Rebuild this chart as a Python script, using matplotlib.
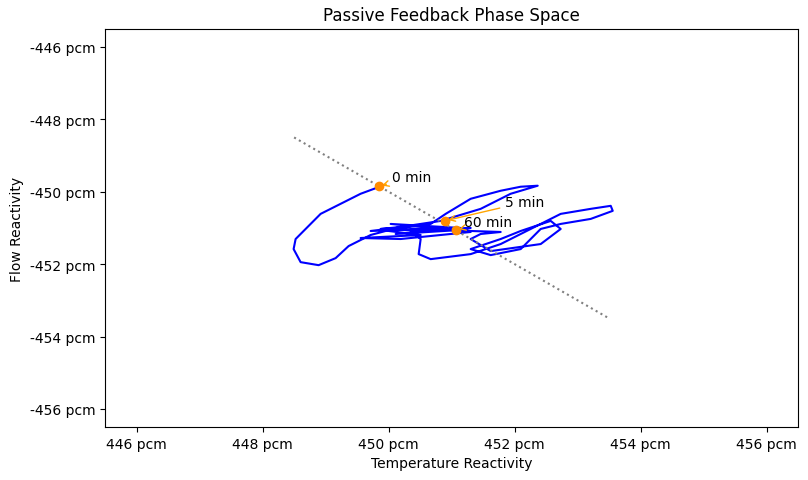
import matplotlib
matplotlib.use("Agg")
import matplotlib.pyplot as plt
from matplotlib.ticker import FuncFormatter

px_x = [379,360,340,320,305,295,293,300,318,335,348,370,400,440,480,510,537,520,500,470,445,430,
        400,380,420,370,460,390,470,400,360,420,380,440,395,460,410,
        420,418,430,470,500,520,540,560,590,610,612,590,560,540,520,490,470,500,520,550,560,540,490,
        470,480,500,470,455,440,470,458,450]
px_y = [188,195,205,215,230,240,250,263,266,259,247,236,228,222,210,195,187,188,192,200,215,225,
        229,230,226,232,229,225,233,240,239,236,231,230,235,231,232,
        240,255,260,255,245,235,225,215,210,207,212,220,225,230,250,256,250,240,232,222,230,245,252,
        240,235,233,232,231,230,229,231,231]
temp = [450 + (p - 388) / 63 for p in px_x]
flow = [-450 - (p - 193) / 36 for p in px_y]

marks_t = [449.85, 450.9, 451.07]
marks_f = [-449.85, -450.8, -451.05]
labels = ["0 min", "5 min", "60 min"]
text_pos = [(450.05, -449.7), (451.85, -450.4), (451.2, -450.95)]

fmt = FuncFormatter(lambda v, p: f"{v:.0f} pcm")
fig, ax = plt.subplots(figsize=(8.08, 4.81), dpi=100)
ax.plot(temp, flow, color="blue", lw=1.5)
ax.plot([448.5, 453.5], [-448.5, -453.5], ":", color="gray")
ax.scatter(marks_t, marks_f, color="darkorange", zorder=5)
for t, f, l, tp in zip(marks_t, marks_f, labels, text_pos):
    ax.annotate(l, (t, f), xytext=tp, arrowprops=dict(arrowstyle="->", color="orange"))
ax.set_xlim(445.5, 456.5)
ax.set_ylim(-456.5, -445.5)
ax.set_xticks([446, 448, 450, 452, 454, 456])
ax.set_yticks([-446, -448, -450, -452, -454, -456])
ax.xaxis.set_major_formatter(fmt)
ax.yaxis.set_major_formatter(fmt)
ax.set_xlabel("Temperature Reactivity")
ax.set_ylabel("Flow Reactivity")
ax.set_title("Passive Feedback Phase Space")
fig.subplots_adjust(left=0.13, right=0.988, top=0.938, bottom=0.11)
fig.savefig("out.png")
